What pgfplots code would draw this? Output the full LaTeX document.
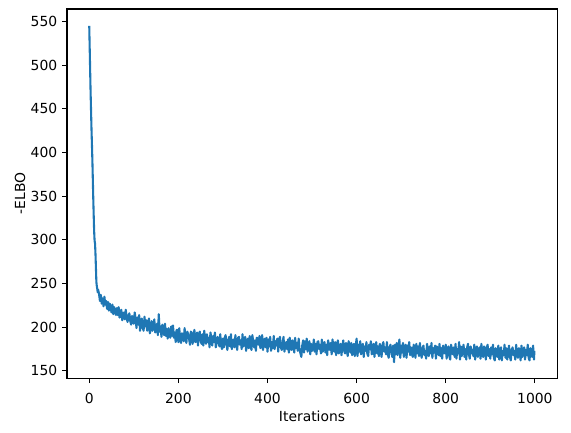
\documentclass[border=0pt]{standalone}
\usepackage{fontspec}
\setmainfont{DejaVu Sans}
\usepackage{pgfplots}
\pgfplotsset{compat=1.18}
\usetikzlibrary{calc}
\definecolor{mplblue}{HTML}{1F77B4}
\begin{document}
\begin{tikzpicture}
\begin{axis}[
  scale only axis,
  width=352.8pt, height=265.7pt,
  xmin=-50, xmax=1049.95,
  ymin=141.7, ymax=564.3,
  xtick={0,200,400,600,800,1000},
  ytick={150,200,250,300,350,400,450,500,550},
  tick align=outside,
  major tick length=3.5pt,
  tick style={line width=0.8pt, black},
  axis line style={line width=0.8pt},
  xtick pos=bottom, ytick pos=left,
  /pgf/number format/assume math mode=true,
  /pgf/number format/set thousands separator={},
  tick label style={font=\fontsize{10}{12}\selectfont},
  xticklabel style={yshift=-4pt},
  label style={font=\fontsize{10}{12}\selectfont},
  xlabel={Iterations},
  ylabel={-ELBO},
  xlabel style={yshift=2pt},
  ylabel style={yshift=-3pt},
]
\addplot[mplblue, line width=1.5pt, line join=round] coordinates {
(0,545)(1,520)(2,495)(3,470)(4,449)(5,428)(6,410)(7,392)(8,370)(9,348)(10,328)(11,310)(12,299)(13,296)(14,284)(15,268)(16,252)(17,247)(18,244)(19,240)(20,243)
(22,238)(24,230)(26,237)(28,227)(30,233)(32,224)(34,235)(36,226)(38,230)(40,221)(42,229)(44,219)(46,227)(48,222)(50,217)(52,226)(54,215)(56,223)(58,219)(60,214)
(62,222)(64,214)(66,223)(68,211)(70,217)(72,220)(74,208)(76,212)(78,217)(80,209)(82,220)(84,211)(86,206)(88,213)(90,216)(92,207)(94,203)(96,213)(98,208)(100,204)
(102,217)(104,210)(106,199)(108,211)(110,203)(112,214)(114,196)(116,207)(118,210)(120,199)(122,196)(124,212)(126,201)(128,208)(130,196)(132,205)(134,210)(136,193)(138,198)(140,207)
(142,196)(144,202)(146,209)(148,194)(150,197)(152,204)(154,191)(156,215)(158,195)(160,201)(162,189)(164,203)(166,199)(168,191)(170,204)(172,190)(174,198)(176,187)(178,199)(180,194)
(182,188)(184,201)(186,190)(188,202)(190,188)(192,194)(194,183)(196,197)(198,197)(200,183)
(202,199)(204,186)(206,182)(208,193)(210,192)(212,184)(214,199)(216,187)(218,182)(220,195)(222,192)(224,187)(226,180)(228,195)(230,194)(232,181)(234,190)(236,197)(238,183)(240,185)
(242,194)(244,179)(246,191)(248,195)(250,185)(252,181)(254,192)(256,179)(258,196)(260,187)(262,181)(264,192)(266,183)(268,188)(270,177)(272,194)(274,188)(276,179)(278,190)(280,183)
(282,194)(284,177)(286,182)(288,189)(290,186)(292,178)(294,192)(296,179)(298,175)(300,187)
(302,177)(304,188)(306,191)(308,180)(310,174)(312,185)(314,189)(316,178)(318,192)(320,175)(322,183)(324,186)(326,177)(328,191)(330,181)(332,174)(334,188)(336,189)(338,180)(340,185)
(342,175)(344,192)(346,178)(348,186)(350,189)(352,173)(354,182)(356,187)(358,176)(360,190)(362,179)(364,174)(366,191)(368,184)(370,177)(372,185)(374,173)(376,188)(378,187)(380,180)
(382,190)(384,176)(386,179)(388,191)(390,174)(392,184)(394,187)(396,177)(398,188)(400,172)
(402,186)(404,178)(406,189)(408,173)(410,183)(412,176)(414,190)(416,175)(418,184)(420,179)(422,187)(424,172)(426,186)(428,189)(430,177)(432,174)(434,182)(436,189)(438,172)(440,180)
(442,183)(444,175)(446,186)(448,171)(450,188)(452,178)(454,174)(456,185)(458,181)(460,171)(462,188)(464,176)(466,182)(468,173)(470,187)(472,174)(474,170)(476,166)(478,179)(480,185)
(482,171)(484,184)(486,175)(488,187)(490,172)(492,180)(494,184)(496,169)(498,181)(500,173)
(502,176)(504,186)(506,172)(508,181)(510,169)(512,183)(514,184)(516,175)(518,180)(520,170)(522,186)(524,172)(526,177)(528,183)(530,171)(532,180)(534,168)(536,185)(538,179)(540,174)
(542,182)(544,169)(546,186)(548,175)(550,172)(552,183)(554,168)(556,180)(558,185)(560,170)(562,176)(564,181)(566,168)(568,178)(570,185)(572,173)(574,170)(576,182)(578,174)(580,167)
(582,184)(584,179)(586,171)(588,182)(590,168)(592,178)(594,181)(596,167)(598,179)(600,187)
(602,167)(604,180)(606,172)(608,184)(610,169)(612,177)(614,181)(616,166)(618,178)(620,173)(622,183)(624,170)(626,167)(628,180)(630,175)(632,184)(634,169)(636,172)(638,181)(640,166)
(642,177)(644,183)(646,170)(648,178)(650,167)(652,181)(654,173)(656,166)(658,180)(660,183)(662,172)(664,177)(666,169)(668,183)(670,169)(672,165)(674,177)(676,180)(678,172)(680,166)
(682,179)(684,160)(686,180)(688,169)(690,182)(692,168)(694,177)(696,186)(698,165)(700,179)
(702,171)(704,182)(706,166)(708,176)(710,180)(712,165)(714,179)(716,172)(718,183)(720,168)(722,177)(724,169)(726,166)(728,180)(730,176)(732,165)(734,181)(736,170)(738,178)(740,167)
(742,182)(744,171)(746,165)(748,176)(750,179)(752,168)(754,173)(756,164)(758,181)(760,175)(762,167)(764,178)(766,170)(768,182)(770,165)(772,176)(774,171)(776,179)(778,164)(780,178)
(782,175)(784,168)(786,181)(788,167)(790,176)(792,164)(794,179)(796,173)(798,170)(800,180)
(802,164)(804,175)(806,178)(808,167)(810,163)(812,180)(814,174)(816,169)(818,177)(820,166)(822,181)(824,164)(826,175)(828,170)(830,183)(832,163)(834,178)(836,167)(838,174)(840,180)
(842,166)(844,175)(846,163)(848,177)(850,181)(852,169)(854,164)(856,178)(858,170)(860,174)(862,167)(864,180)(866,163)(868,175)(870,178)(872,166)(874,172)(876,177)(878,164)(880,181)
(882,169)(884,166)(886,178)(888,174)(890,163)(892,177)(894,180)(896,167)(898,175)(900,164)
(902,177)(904,169)(906,180)(908,165)(910,162)(912,176)(914,173)(916,166)(918,179)(920,163)(922,174)(924,177)(926,162)(928,173)(930,168)(932,180)(934,165)(936,176)(938,163)(940,171)
(942,179)(944,166)(946,162)(948,174)(950,177)(952,168)(954,173)(956,163)(958,180)(960,169)(962,165)(964,176)(966,174)(968,162)(970,179)(972,166)(974,173)(976,177)(978,163)(980,174)
(982,168)(984,180)(986,165)(988,162)(990,176)(992,173)(994,166)(996,179)(998,163)(999,173)
};
\end{axis}
\path ($(current axis.south west)+(-48.2pt,-38.9pt)$) rectangle ($(current axis.north east)+(10pt,6.5pt)$);
\end{tikzpicture}
\end{document}
